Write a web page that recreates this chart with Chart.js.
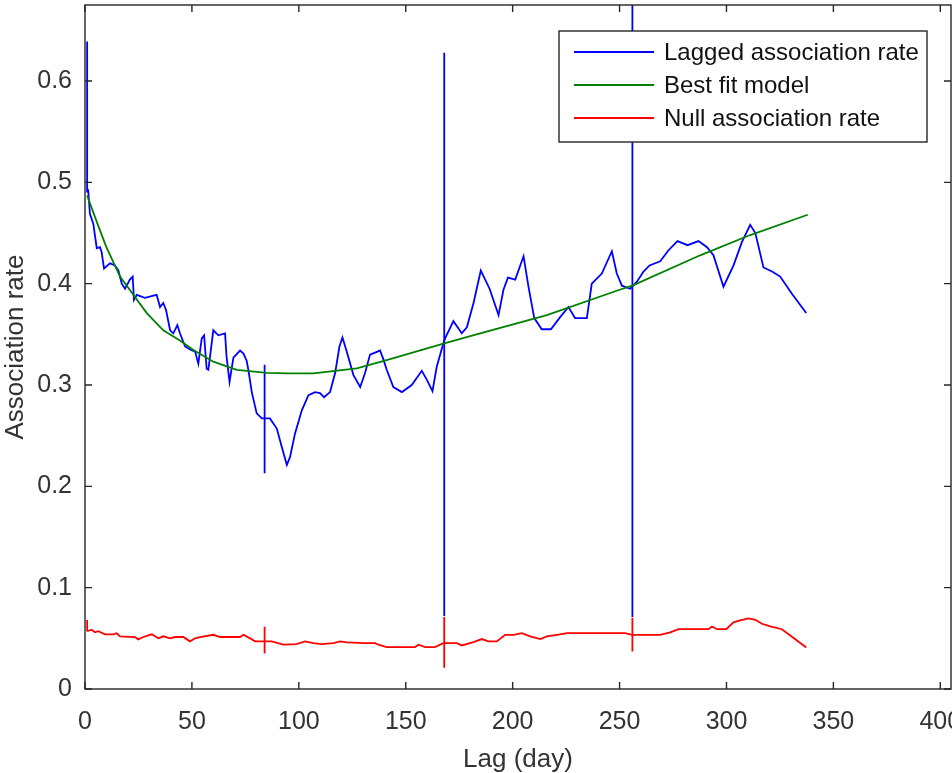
<!DOCTYPE html>
<html>
<head>
<meta charset="utf-8">
<script src="https://cdn.jsdelivr.net/npm/chart.js@4.4.1/dist/chart.umd.min.js"></script>
<style>
  html, body { margin: 0; padding: 0; background: #ffffff; }
  #wrap { width: 952px; height: 773px; }
</style>
</head>
<body>
<div id="wrap"><canvas id="chart" width="952" height="773"></canvas></div>
<script>
// Lagged association rate (observed)
const lagDays = [1, 1.5, 2.3, 3.9, 5.5, 7, 7.8, 8.9, 11.7, 14, 15.6, 17.2, 18.7, 21, 22.3, 22.9, 24.2, 28, 33.5, 35.1,
  36.6, 37.9, 39.8, 41.3, 43.2, 44.4, 46.8, 49.1, 51.5, 53, 54.6, 55.7, 56.9, 57.7, 60, 62.4, 65.5, 66.2, 67.6, 69.4,
  72.5, 74.1, 75.6, 76.4, 78, 80.3, 82.7, 86.5, 89.7, 92, 94.4, 95.9, 98.2, 101.4, 104.5, 107.6, 109.9, 111.8, 114.6, 117,
  119, 120.4, 122.4, 125.5, 128.7, 131, 133.3, 138, 139.6, 141.1, 144.2, 148.2, 152.8, 157.5, 159.9, 162.5, 164.5, 166.9, 167.6, 168.4,
  172.3, 176.2, 178.6, 181.7, 185.1, 189.2, 193.4, 195.7, 197.8, 201.2, 205.1, 207.4, 210.1, 213.6, 217.9, 222.2, 226.1, 229.2, 234.7, 237,
  241.7, 246.4, 248.7, 251.1, 255, 258.1, 261.2, 264, 269, 272.9, 277.1, 281.8, 286.9, 290.9, 293.9, 298.6, 303.3, 307.2, 311.1, 313.5,
  317.3, 321.3, 325.1, 330.6, 337.3];
const lagRate = [0.494, 0.492, 0.469, 0.459, 0.435, 0.436, 0.431, 0.415, 0.420, 0.418, 0.413, 0.400, 0.395, 0.404, 0.407, 0.384, 0.389, 0.386, 0.389, 0.377,
  0.381, 0.374, 0.354, 0.351, 0.359, 0.351, 0.338, 0.335, 0.333, 0.321, 0.346, 0.349, 0.316, 0.315, 0.354, 0.349, 0.351, 0.328, 0.303, 0.327,
  0.334, 0.331, 0.324, 0.315, 0.293, 0.272, 0.267, 0.267, 0.257, 0.239, 0.221, 0.229, 0.252, 0.275, 0.290, 0.293, 0.292, 0.288, 0.293, 0.312,
  0.338, 0.347, 0.333, 0.310, 0.298, 0.312, 0.330, 0.334, 0.325, 0.315, 0.298, 0.293, 0.300, 0.314, 0.305, 0.294, 0.318, 0.336, 0.341, 0.346,
  0.363, 0.351, 0.357, 0.381, 0.413, 0.395, 0.369, 0.394, 0.406, 0.404, 0.427, 0.397, 0.366, 0.355, 0.355, 0.367, 0.377, 0.366, 0.366, 0.400,
  0.410, 0.432, 0.410, 0.398, 0.395, 0.402, 0.412, 0.418, 0.422, 0.433, 0.442, 0.438, 0.442, 0.436, 0.428, 0.397, 0.418, 0.441, 0.458, 0.450,
  0.416, 0.412, 0.407, 0.390, 0.371];

// Best fit model
const fitDays = [1, 5.5, 10, 16.4, 22.6, 28.9, 36.6, 44.4, 50.7, 60, 71, 85, 95, 106.8, 127.1, 142.7, 168, 184.8, 216, 250, 256, 287.7, 311.1, 338];
const fitRate = [0.487, 0.461, 0.436, 0.407, 0.389, 0.371, 0.354, 0.344, 0.3345, 0.323, 0.315, 0.312, 0.3115, 0.3115, 0.3165, 0.3256, 0.341, 0.351, 0.369, 0.394, 0.398, 0.428, 0.448, 0.468];

// Null association rate
const nullDays = [1, 3.1, 4.7, 6.2, 9.4, 13.3, 14.8, 16.4, 23.4, 24.9, 27.3, 31.2, 34.3, 36.6, 39.8, 42.1, 46, 49.1, 51.5, 53.8,
  60, 63.2, 72.5, 74.1, 77.2, 79.5, 84.2, 87.3, 92.8, 99, 102.9, 106.8, 110.7, 116.2, 119.3, 122.4, 131, 135.7, 137.2, 141.1,
  154.4, 155.9, 159.1, 163.7, 167.6, 173.9, 176.2, 181.7, 185.6, 188.7, 192.6, 196.5, 200.4, 204.3, 208.2, 212.9, 216, 220.7, 225.4, 252.6,
  255.8, 269, 273.7, 277.6, 291.6, 293.2, 295.5, 299.9, 303.3, 306.4, 310.3, 313.5, 316.6, 320.5, 325.9, 331.4, 337.3];
const nullRate = [0.057, 0.0585, 0.056, 0.057, 0.054, 0.054, 0.055, 0.052, 0.0513, 0.049, 0.0513, 0.054, 0.050, 0.052, 0.050, 0.0513, 0.0513, 0.047, 0.050, 0.0513,
  0.0535, 0.0513, 0.0513, 0.0535, 0.050, 0.047, 0.047, 0.047, 0.0437, 0.0443, 0.047, 0.0453, 0.0443, 0.0453, 0.047, 0.046, 0.0453, 0.0453, 0.0437, 0.0414,
  0.0414, 0.0437, 0.0414, 0.0414, 0.0453, 0.0453, 0.043, 0.0463, 0.0493, 0.047, 0.047, 0.0535, 0.0535, 0.0552, 0.052, 0.0493, 0.052, 0.0535, 0.0552, 0.0552,
  0.0535, 0.0535, 0.0558, 0.059, 0.059, 0.0617, 0.059, 0.059, 0.0657, 0.0677, 0.0696, 0.0683, 0.0644, 0.0617, 0.059, 0.0503, 0.041];

// Error bars (lower / upper limits) at selected lags
const errDays = [1, 84, 168, 256];
const lagLow = [0.49, 0.213, 0.072, 0.071];
const lagHigh = [0.639, 0.320, 0.628, 0.70];
const nullLow = [0.057, 0.035, 0.021, 0.037];
const nullHigh = [0.068, 0.0615, 0.071, 0.0703];

// Axis ticks
const xTicks = [0, 50, 100, 150, 200, 250, 300, 350, 400];
const xTickLabels = ['0', '50', '100', '150', '200', '250', '300', '350', '400'];
const yTicks = [0, 0.1, 0.2, 0.3, 0.4, 0.5, 0.6];
const yTickLabels = ['0', '0.1', '0.2', '0.3', '0.4', '0.5', '0.6'];

const FONT = "'Liberation Sans', Arial, Helvetica, sans-serif";
const AXIS_COLOR = '#262626';
const TEXT_COLOR = '#333333';

const toPoints = (xs, ys) => xs.map((x, i) => ({ x, y: ys[i] }));
const toBars = (xs, lo, hi) => xs.flatMap((x, i) => [{ x, y: lo[i] }, { x, y: hi[i] }, { x, y: null }]);

// Box around the plot with inward tick marks on all four sides
const axesBox = {
  id: 'axesBox',
  afterDatasetsDraw(chart) {
    const { ctx, chartArea: a, scales: { x, y } } = chart;
    const len = 7;
    ctx.save();
    ctx.strokeStyle = AXIS_COLOR;
    ctx.lineWidth = 1.4;
    ctx.strokeRect(a.left, a.top, a.right - a.left, a.bottom - a.top);
    ctx.beginPath();
    x.ticks.forEach(t => {
      const px = x.getPixelForValue(t.value);
      ctx.moveTo(px, a.bottom); ctx.lineTo(px, a.bottom - len);
      ctx.moveTo(px, a.top); ctx.lineTo(px, a.top + len);
    });
    y.ticks.forEach(t => {
      const py = y.getPixelForValue(t.value);
      ctx.moveTo(a.left, py); ctx.lineTo(a.left + len, py);
      ctx.moveTo(a.right, py); ctx.lineTo(a.right - len, py);
    });
    ctx.stroke();
    ctx.restore();
  }
};

// Boxed legend in the upper right corner of the plot
const boxLegend = {
  id: 'boxLegend',
  afterDraw(chart) {
    const { ctx, chartArea: a } = chart;
    const items = chart.data.datasets.filter(d => d.label);
    const w = 368, rowH = 33, h = 111;
    const left = a.right - 24 - w, top = a.top + 26;
    ctx.save();
    ctx.fillStyle = '#ffffff';
    ctx.fillRect(left, top, w, h);
    ctx.strokeStyle = '#262626';
    ctx.lineWidth = 1.4;
    ctx.strokeRect(left, top, w, h);
    ctx.font = '24px ' + FONT;
    ctx.textBaseline = 'middle';
    ctx.textAlign = 'left';
    items.forEach((d, i) => {
      const cy = top + 21 + i * rowH;
      ctx.strokeStyle = d.borderColor;
      ctx.lineWidth = 1.8;
      ctx.beginPath();
      ctx.moveTo(left + 15, cy);
      ctx.lineTo(left + 95, cy);
      ctx.stroke();
      ctx.fillStyle = '#111111';
      ctx.fillText(d.label, left + 105, cy + 1);
    });
    ctx.restore();
  }
};

const lineStyle = { borderWidth: 1.8, pointRadius: 0, pointHoverRadius: 0, tension: 0, fill: false, spanGaps: false };

new Chart(document.getElementById('chart'), {
  type: 'line',
  data: {
    datasets: [
      { label: 'Lagged association rate', data: toPoints(lagDays, lagRate), borderColor: '#0000ff', order: 4, ...lineStyle },
      { label: 'Best fit model', data: toPoints(fitDays, fitRate), borderColor: '#008000', order: 2, ...lineStyle },
      { label: 'Null association rate', data: toPoints(nullDays, nullRate), borderColor: '#ff0000', order: 0, ...lineStyle },
      { data: toBars(errDays, lagLow, lagHigh), borderColor: '#0000ff', order: 3, ...lineStyle },
      { data: toBars(errDays, nullLow, nullHigh), borderColor: '#ff0000', order: 1, ...lineStyle }
    ]
  },
  options: {
    responsive: false,
    animation: false,
    devicePixelRatio: 1,
    layout: { padding: { top: 5, right: 1, left: 0, bottom: 0 } },
    plugins: { legend: { display: false }, tooltip: { enabled: false } },
    scales: {
      x: {
        type: 'linear', min: 0, max: 405,
        afterBuildTicks: s => { s.ticks = xTicks.map(v => ({ value: v })); },
        afterFit: s => { s.height = 84; s.paddingLeft = 0; s.paddingRight = 0; },
        grid: { display: false, drawTicks: false },
        border: { display: false },
        ticks: {
          callback: (v, i) => xTickLabels[i], autoSkip: false, maxRotation: 0,
          padding: 18, color: TEXT_COLOR, font: { family: FONT, size: 25 }
        },
        title: { display: true, text: 'Lag (day)', color: TEXT_COLOR, padding: 0, font: { family: FONT, size: 26, lineHeight: 1 } }
      },
      y: {
        type: 'linear', min: 0, max: 0.675,
        afterBuildTicks: s => { s.ticks = yTicks.map(v => ({ value: v })); },
        afterFit: s => { s.width = 85; s.paddingTop = 0; s.paddingBottom = 0; },
        grid: { display: false, drawTicks: false },
        border: { display: false },
        ticks: {
          callback: (v, i) => yTickLabels[i], autoSkip: false,
          padding: 13, color: TEXT_COLOR, font: { family: FONT, size: 25 }
        },
        title: { display: true, text: 'Association rate', color: TEXT_COLOR, padding: 0, font: { family: FONT, size: 26, lineHeight: 1.2 } }
      }
    }
  },
  plugins: [axesBox, boxLegend]
});
</script>
</body>
</html>
